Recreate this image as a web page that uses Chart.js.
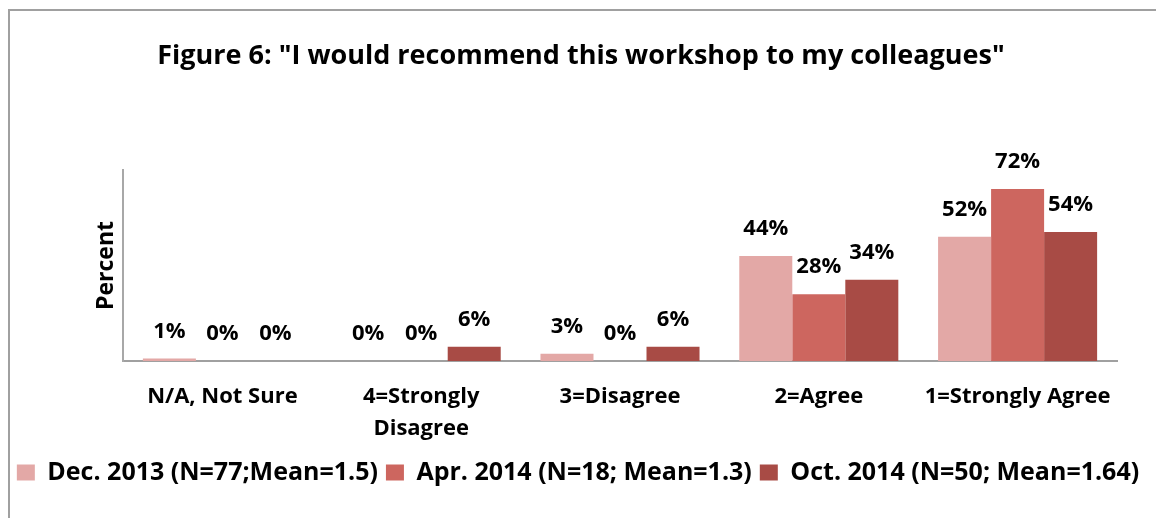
<!DOCTYPE html>
<html>
<head>
<meta charset="utf-8">
<script src="https://cdn.jsdelivr.net/npm/chart.js@4.4.1/dist/chart.umd.min.js"></script>
<style>
  html, body { margin: 0; padding: 0; background: #fff; overflow: hidden; }
  #wrap { position: relative; width: 1156px; height: 518px; }
  #frame { position: absolute; left: 8px; top: 9px; width: 1300px; height: 700px; border: 2px solid #a0a0a0; }
  canvas { position: absolute; left: 0; top: 0; }
</style>
</head>
<body>
<div id="wrap">
  <div id="frame"></div>
  <canvas id="myChart" width="1156" height="518"></canvas>
</div>
<script>
const categories = ["N/A, Not Sure", ["4=Strongly", "Disagree"], "3=Disagree", "2=Agree", "1=Strongly Agree"];
const seriesNames = ["Dec. 2013 (N=77;Mean=1.5)", "Apr. 2014 (N=18; Mean=1.3)", "Oct. 2014 (N=50; Mean=1.64)"];
const dec2013 = [1, 0, 3, 44, 52];
const apr2014 = [0, 0, 0, 28, 72];
const oct2014 = [0, 6, 6, 34, 54];
const colors = ["#e3a8a6", "#cd665f", "#a84b45"];

const FONT = "'Open Sans', sans-serif";

// titulo desenhado a mao para ficar centrado como no original
const titlePlugin = {
  id: "titleText",
  afterDraw(chart) {
    const ctx = chart.ctx;
    ctx.save();
    ctx.font = `bold 27px ${FONT}`;
    ctx.fillStyle = "#000";
    ctx.textAlign = "center";
    ctx.textBaseline = "middle";
    ctx.fillText('Figure 6: "I would recommend this workshop to my colleagues"', 581, 56);
    ctx.restore();
  }
};

// rotulos de valor em cima das barras
const valueLabels = {
  id: "valueLabels",
  afterDatasetsDraw(chart) {
    const ctx = chart.ctx;
    ctx.save();
    ctx.font = `bold 22px ${FONT}`;
    ctx.fillStyle = "#000";
    ctx.textAlign = "center";
    ctx.textBaseline = "middle";
    chart.data.datasets.forEach((ds, i) => {
      chart.getDatasetMeta(i).data.forEach((bar, j) => {
        ctx.fillText(ds.data[j] + "%", bar.x, bar.y - 27);
      });
    });
    ctx.restore();
  }
};

new Chart(document.getElementById("myChart"), {
  type: "bar",
  data: {
    labels: categories,
    datasets: [dec2013, apr2014, oct2014].map((d, i) => ({
      label: seriesNames[i],
      data: d,
      backgroundColor: colors[i],
      borderWidth: 0,
      categoryPercentage: 0.8,
      barPercentage: 1
    }))
  },
  options: {
    responsive: false,
    animation: false,
    layout: { padding: { top: 170, left: 0, right: 0, bottom: 23 } },
    plugins: {
      tooltip: { enabled: false },
      title: { display: false },
      legend: {
        position: "bottom",
        padding: 10,
        labels: {
          boxWidth: 18,
          boxHeight: 16,
          padding: 8,
          color: "#000",
          font: { family: FONT, size: 25, weight: "bold" }
        }
      }
    },
    scales: {
      x: {
        grid: { display: false, drawTicks: false },
        border: { display: true, color: "#a0a0a0", width: 2 },
        ticks: {
          color: "#000",
          padding: 20,
          maxRotation: 0,
          autoSkip: false,
          font: { family: FONT, size: 22, weight: "bold", lineHeight: 1.45 }
        },
        afterFit(s) { s.height = 91; }
      },
      y: {
        min: 0,
        max: 80,
        grid: { display: false, drawTicks: false },
        border: { display: true, color: "#a8a8a8", width: 2 },
        ticks: { display: false },
        title: {
          display: true,
          text: "Percent",
          color: "#000",
          padding: { top: 93 },
          font: { family: FONT, size: 23, weight: "bold", lineHeight: 1.2 }
        },
        afterFit(s) { s.width = 123; }
      },
      yRight: {
        position: "right",
        display: true,
        grid: { display: false, drawTicks: false },
        border: { display: false },
        ticks: { display: false },
        afterFit(s) { s.width = 39; }
      }
    }
  },
  plugins: [titlePlugin, valueLabels]
});
</script>
</body>
</html>
